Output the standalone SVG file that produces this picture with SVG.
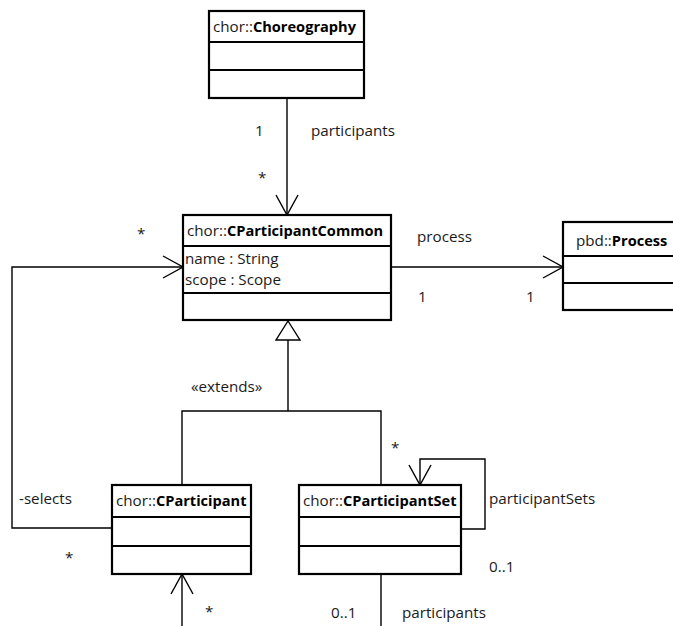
<svg xmlns="http://www.w3.org/2000/svg" width="673" height="626" viewBox="0 0 673 626">
  <defs>
    <style>
      .box { fill: #fff; stroke: #000; stroke-width: 2.2; }
      .div { stroke: #000; stroke-width: 2.2; }
      .edge { fill: none; stroke: #000; stroke-width: 1.4; }
      text { font-family: "Open Sans", "Liberation Sans", sans-serif; font-size: 15.2px; fill: #1a1a1a; }
      .b { font-weight: bold; fill: #000; font-size: 14.6px; }
    </style>
    <marker id="open" markerWidth="24" markerHeight="28" refX="21" refY="12" orient="auto" markerUnits="userSpaceOnUse">
      <path d="M1,1 L21,12 L1,23" fill="none" stroke="#000" stroke-width="1.4"/>
    </marker>
  </defs>
  <rect width="673" height="626" fill="#fff"/>

  <!-- connectors -->
  <g id="connectors">
    <path class="edge" d="M287,98 V215" marker-end="url(#open)"/>
    <path class="edge" d="M391,267 H563" marker-end="url(#open)"/>
    <path class="edge" d="M112,528 H12 V267 H183" marker-end="url(#open)"/>
    <!-- generalization -->
    <path class="edge" d="M182,485 V411 H381 V485 M288,411 V340"/>
    <polygon points="288,321 300,340 276,340" fill="#fff" stroke="#000" stroke-width="1.4"/>
    <!-- self association -->
    <path class="edge" d="M461,529 H485 V459 H420 V485" marker-end="url(#open)"/>
    <path class="edge" d="M182,626 V574" marker-end="url(#open)"/>
    <path class="edge" d="M381,574 V626"/>
    <!-- labels -->
    <text x="255" y="136">1</text>
    <text x="311" y="136">participants</text>
    <text x="258" y="183">*</text>
    <text x="137" y="239">*</text>
    <text x="417" y="242">process</text>
    <text x="418" y="302">1</text>
    <text x="526" y="302">1</text>
    <text x="191" y="392">«extends»</text>
    <text x="391" y="453">*</text>
    <text x="489" y="504">participantSets</text>
    <text x="19" y="504">-selects</text>
    <text x="65" y="563">*</text>
    <text x="489" y="572">0..1</text>
    <text x="205" y="617">*</text>
    <text x="331" y="618">0..1</text>
    <text x="402" y="618">participants</text>
  </g>

  <g id="choreography">
    <rect class="box" x="209" y="11" width="155" height="87"/>
    <line class="div" x1="209" y1="42" x2="364" y2="42"/>
    <line class="div" x1="209" y1="70" x2="364" y2="70"/>
    <text x="213" y="32">chor::<tspan class="b">Choreography</tspan></text>
  </g>

  <g id="cparticipantcommon">
    <rect class="box" x="183" y="215" width="208" height="105"/>
    <line class="div" x1="183" y1="246" x2="391" y2="246"/>
    <line class="div" x1="183" y1="293" x2="391" y2="293"/>
    <text x="187" y="236">chor::<tspan class="b">CParticipantCommon</tspan></text>
    <text x="185" y="264">name : String</text>
    <text x="185" y="285">scope : Scope</text>
  </g>

  <g id="process">
    <rect class="box" x="563" y="222" width="120" height="88"/>
    <line class="div" x1="563" y1="256" x2="683" y2="256"/>
    <line class="div" x1="563" y1="283" x2="683" y2="283"/>
    <text x="576" y="246">pbd::<tspan class="b">Process</tspan></text>
  </g>

  <g id="cparticipant">
    <rect class="box" x="112" y="485" width="139" height="89"/>
    <line class="div" x1="112" y1="517" x2="251" y2="517"/>
    <line class="div" x1="112" y1="546" x2="251" y2="546"/>
    <text x="116" y="506">chor::<tspan class="b">CParticipant</tspan></text>
  </g>

  <g id="cparticipantset">
    <rect class="box" x="299" y="485" width="162" height="89"/>
    <line class="div" x1="299" y1="517" x2="461" y2="517"/>
    <line class="div" x1="299" y1="546" x2="461" y2="546"/>
    <text x="303" y="506">chor::<tspan class="b">CParticipantSet</tspan></text>
  </g>
</svg>
